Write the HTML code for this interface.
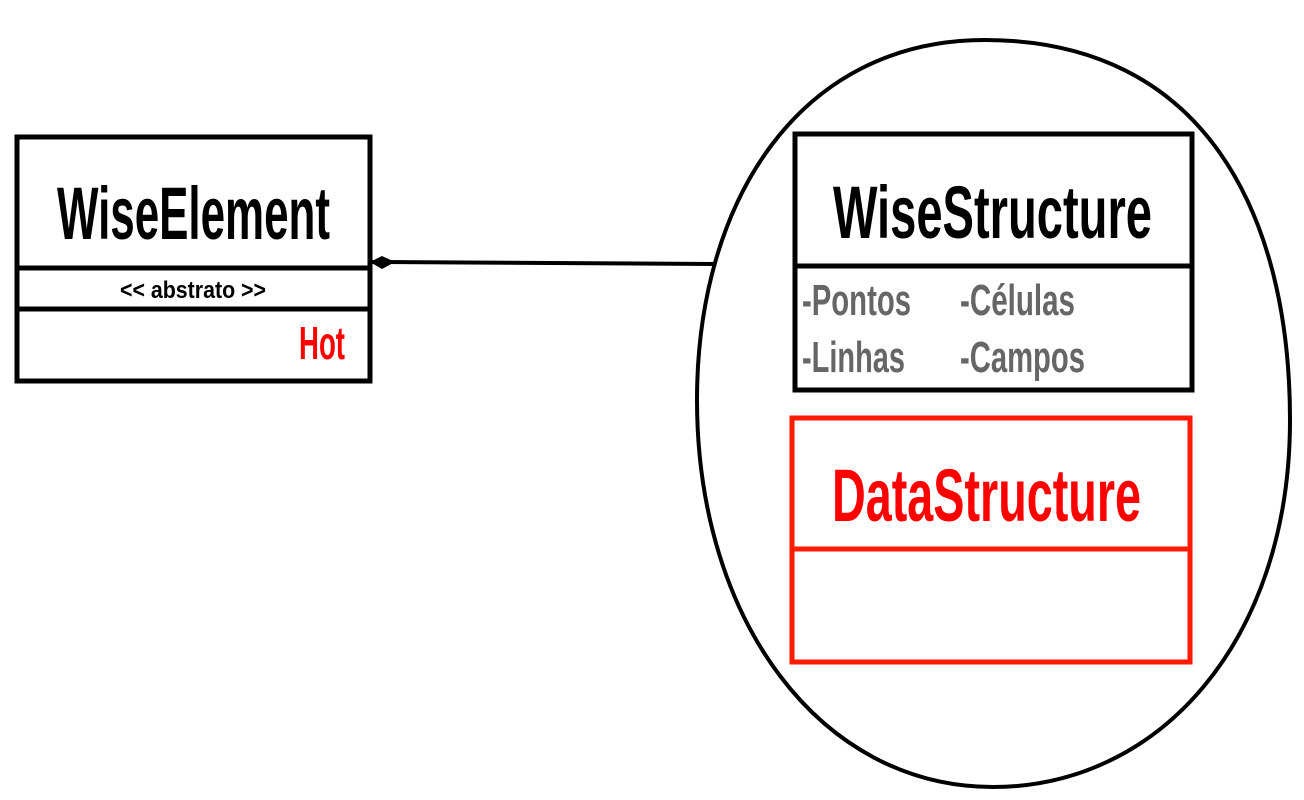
<!DOCTYPE html>
<html><head><meta charset="utf-8"><style>html,body{margin:0;padding:0;background:#fff}svg{display:block}text{font-family:"Liberation Sans Narrow","Liberation Sans",sans-serif;font-weight:bold}</style></head>
<body>
<svg width="1304" height="800" viewBox="0 0 1304 800" xmlns="http://www.w3.org/2000/svg">
<rect width="1304" height="800" fill="#fff"/>
<path d="M985,40 C1205,40 1290,215 1290,420 C1290,640 1160,787 993,787 C820,787 697,620 697,400 C697,200 800,40 985,40 Z" fill="none" stroke="#000" stroke-width="4"/>
<line x1="372" y1="262" x2="714" y2="264" stroke="#000" stroke-width="4"/>
<polygon points="370,262 382,256 395,262 382,269" fill="#000"/>
<rect x="17" y="137" width="353" height="244" fill="none" stroke="#000" stroke-width="5"/>
<line x1="17" y1="268" x2="370" y2="268" stroke="#000" stroke-width="5"/>
<line x1="17" y1="309" x2="370" y2="309" stroke="#000" stroke-width="5"/>
<text x="57" y="239" font-size="74" textLength="273" lengthAdjust="spacingAndGlyphs">WiseElement</text>
<text x="120" y="298" font-size="24" textLength="146" lengthAdjust="spacingAndGlyphs">&lt;&lt; abstrato &gt;&gt;</text>
<text x="299" y="359" font-size="46" fill="#ff0000" textLength="46" lengthAdjust="spacingAndGlyphs">Hot</text>
<rect x="795" y="134" width="397" height="256" fill="none" stroke="#000" stroke-width="5"/>
<line x1="795" y1="266" x2="1192" y2="266" stroke="#000" stroke-width="5"/>
<text x="833" y="238" font-size="74" textLength="319" lengthAdjust="spacingAndGlyphs">WiseStructure</text>
<g fill="#666" font-size="44">
<text x="802" y="315" textLength="109" lengthAdjust="spacingAndGlyphs">-Pontos</text>
<text x="802" y="372" textLength="103" lengthAdjust="spacingAndGlyphs">-Linhas</text>
<text x="960" y="315" textLength="115" lengthAdjust="spacingAndGlyphs">-Células</text>
<text x="960" y="372" textLength="125" lengthAdjust="spacingAndGlyphs">-Campos</text>
</g>
<rect x="792" y="418" width="398" height="244" fill="none" stroke="#ff1a00" stroke-width="5"/>
<line x1="792" y1="549" x2="1190" y2="549" stroke="#ff1a00" stroke-width="5"/>
<text x="832" y="521" font-size="74" fill="#ff0000" textLength="309" lengthAdjust="spacingAndGlyphs">DataStructure</text>
</svg>
</body></html>
